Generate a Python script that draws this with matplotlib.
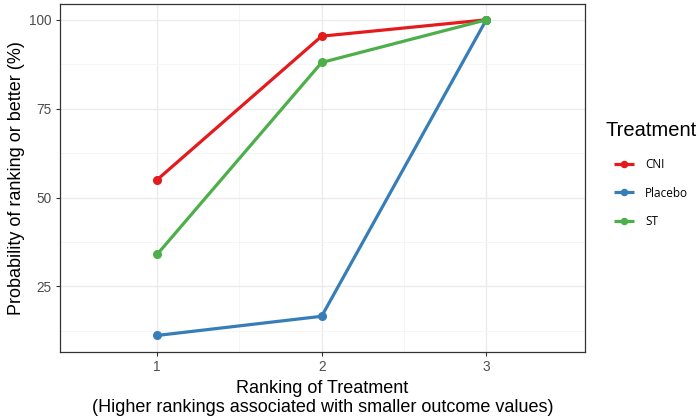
import matplotlib
matplotlib.use("Agg")
import matplotlib.pyplot as plt

# data
rankings = [1, 2, 3]
treatments = ["CNI", "Placebo", "ST"]
cni = [55.0, 95.4, 100.0]
placebo = [11.2, 16.6, 100.0]
st = [34.0, 88.0, 100.0]
colors = ["#E41A1C", "#377EB8", "#4DAF4A"]

plt.rcParams['font.family'] = ['Liberation Sans', 'DejaVu Sans']

fig = plt.figure(figsize=(7, 4.2), dpi=100)
ax = fig.add_axes([60 / 700, 1 - 352 / 420, 525 / 700, 348 / 420])

for name, vals, c in zip(treatments, [cni, placebo, st], colors):
    ax.plot(rankings, vals, color=c, lw=2.3, marker='o', ms=5.5, label=name,
            solid_capstyle='butt', zorder=3)

ax.set_xlim(0.41, 3.6)
ax.set_ylim(6.55, 104.45)
ax.set_xticks(rankings)
ax.set_yticks([25, 50, 75, 100])
ax.set_yticks([12.5, 37.5, 62.5, 87.5], minor=True)
ax.set_xticks([1.5, 2.5], minor=True)

ax.grid(True, which='major', color='#EBEBEB', lw=1.0, zorder=0)
ax.grid(True, which='minor', color='#F4F4F4', lw=0.6, zorder=0)
ax.set_axisbelow(True)
for s in ax.spines.values():
    s.set_color('#333333')
    s.set_linewidth(0.9)
ax.tick_params(which='major', length=3, color='#333333', labelsize=9.8,
               labelcolor='#4D4D4D', width=0.8, pad=3)
ax.tick_params(which='minor', length=0)

ax.set_xlabel("Ranking of Treatment\n(Higher rankings associated with smaller outcome values)",
              fontsize=13, labelpad=4, linespacing=1.2)
ax.set_ylabel("Probability of ranking or better (%)", fontsize=13, labelpad=3)

# legend: title drawn as text, entries as a plain legend
fig.text(605 / 700, 1 - 131 / 420, "Treatment", fontsize=14.5, va='center', ha='left')
leg = fig.legend(loc='upper left', bbox_to_anchor=(614 / 700, 1 - 158 / 420),
                 frameon=False, handlelength=1.7, borderpad=0, borderaxespad=0,
                 labelspacing=1.32, handletextpad=0.95, markerscale=0.8,
                 prop={'family': ['Open Sans', 'DejaVu Sans'], 'size': 8.5})

fig.savefig("out.png", dpi=100)
